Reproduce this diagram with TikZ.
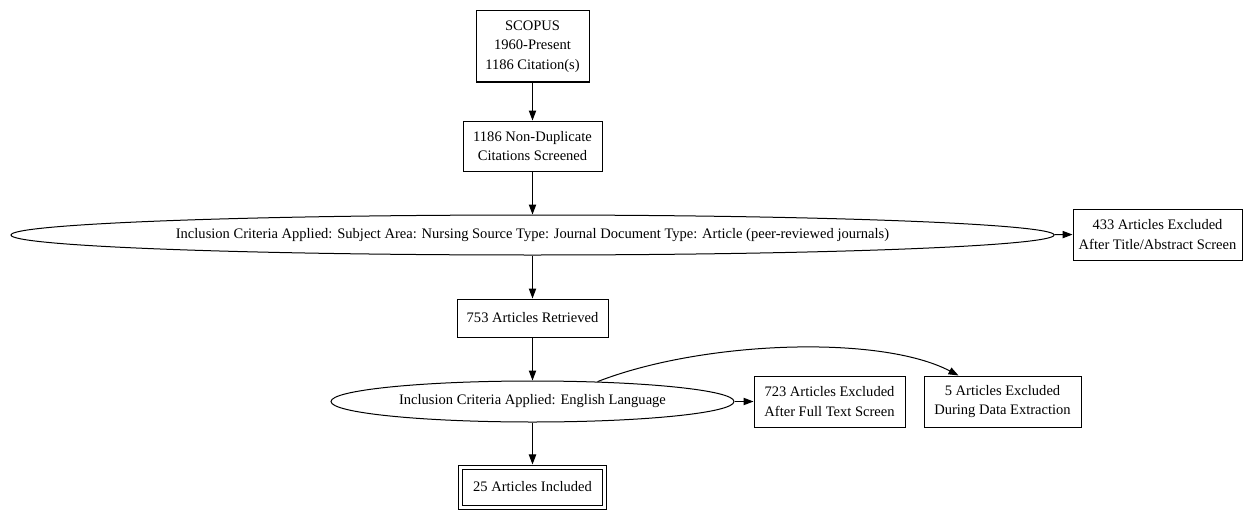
\documentclass[tikz,border=0pt]{standalone}
\usepackage{fontspec}
\setmainfont{Liberation Serif}
\usetikzlibrary{arrows.meta,shapes.geometric,calc}
\begin{document}
\begin{tikzpicture}[x=0.75pt,y=-0.75pt,
  every node/.style={font=\fontsize{10.9}{14.6}\selectfont, align=center, inner sep=0pt},
  box/.style={draw, line width=0.75pt, rectangle},
  oval/.style={draw, line width=0.75pt, ellipse},
  conn/.style={line width=0.75pt, -{Triangle[length=7.5pt,width=5.5pt]}}
]
\useasboundingbox (0,0) rectangle (1248,510);
\node[box, minimum width=113*0.75pt, minimum height=71*0.75pt] (s1) at (532.5,46.5) {SCOPUS\\1960-Present\\1186 Citation(s)};
\node[box, minimum width=139*0.75pt, minimum height=50*0.75pt] (s2) at (532.5,146) {1186 Non-Duplicate\\Citations Screened};
\node[oval, minimum width=1043*0.75pt, minimum height=40*0.75pt] (e1) at (532.5,235) {Inclusion Criteria Applied: Subject Area: Nursing Source Type: Journal Document Type: Article (peer-reviewed journals)};
\node[box, minimum width=169*0.75pt, minimum height=51*0.75pt] (x1) at (1157.5,234.5) {433 Articles Excluded\\After Title/Abstract Screen};
\node[box, minimum width=151*0.75pt, minimum height=38*0.75pt] (s3) at (532.5,318) {753 Articles Retrieved};
\node[oval, minimum width=403*0.75pt, minimum height=41*0.75pt] (e2) at (532.5,401.5) {Inclusion Criteria Applied: English Language};
\node[box, minimum width=151*0.75pt, minimum height=51*0.75pt] (x2) at (829.5,401.5) {723 Articles Excluded\\After Full Text Screen};
\node[box, minimum width=157*0.75pt, minimum height=51*0.75pt] (x3) at (1002.5,401.5) {5 Articles Excluded\\During Data Extraction};
\node[box, double, double distance=2.25pt, outer sep=1.9pt, minimum width=144*0.75pt, minimum height=40*0.75pt] (s4) at (532.5,487) {25 Articles Included};
\draw[conn] (s1) -- (s2);
\draw[conn] (s2) -- (e1);
\draw[conn] (e1) -- (x1);
\draw[conn] (e1) -- (s3);
\draw[conn] (s3) -- (e2);
\draw[conn] (e2) -- (x2);
\draw[conn] (e2) -- (s4);
\draw[conn] (e2.17) .. controls ($(e2.17)+(105,-41)$) and ($(x3.north)+(-122,-41)$) .. ($(x3.north)+(-44,0)$);
\end{tikzpicture}
\end{document}
